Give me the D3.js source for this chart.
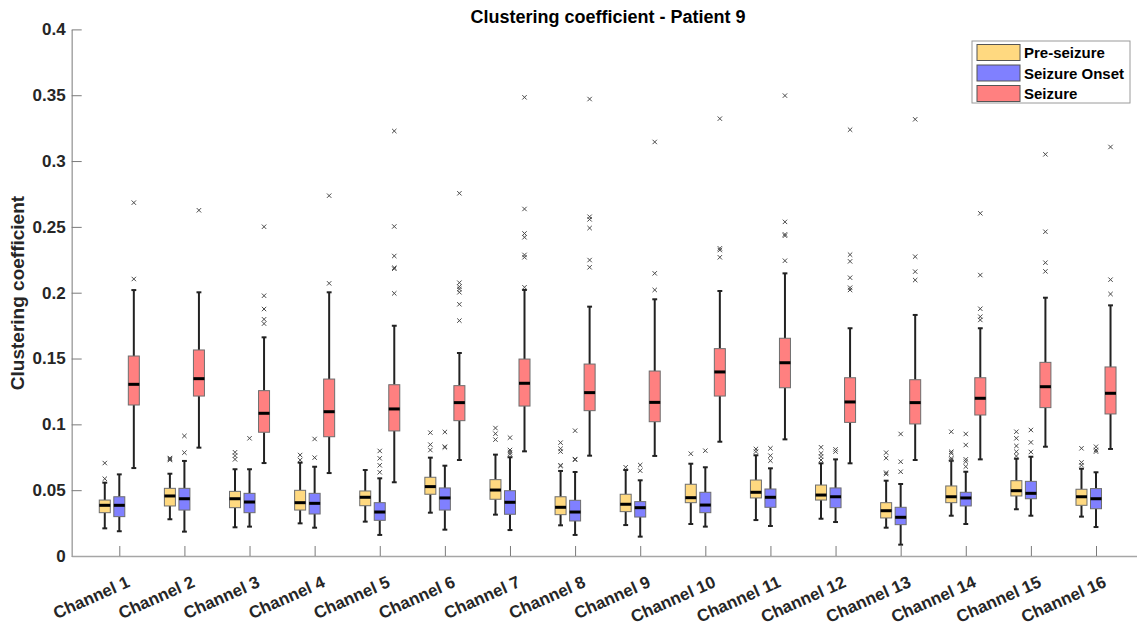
<!DOCTYPE html>
<html>
<head>
<meta charset="utf-8">
<script src="https://cdn.jsdelivr.net/npm/d3@7"></script>
<style>
  html, body { margin: 0; padding: 0; background: #fff; }
  svg { display: block; font-family: "Liberation Sans", Arial, sans-serif; }
</style>
</head>
<body>
<svg id="chart" width="1137" height="626"></svg>
<script>
// Channels on the x axis
const categories = ["Channel 1","Channel 2","Channel 3","Channel 4","Channel 5","Channel 6","Channel 7","Channel 8",
  "Channel 9","Channel 10","Channel 11","Channel 12","Channel 13","Channel 14","Channel 15","Channel 16"];
const groups = ["Pre-seizure", "Seizure Onset", "Seizure"];
const groupColors = ["#FFD980", "#8080FF", "#FF8080"];
const yTicks = [0, 0.05, 0.1, 0.15, 0.2, 0.25, 0.3, 0.35, 0.4];

// Box statistics per channel: [lower whisker, Q1, median, Q3, upper whisker]
const preSeizureStats = [
  [0.0210, 0.0329, 0.0385, 0.0425, 0.0557],
  [0.0279, 0.0380, 0.0456, 0.0514, 0.0625],
  [0.0218, 0.0367, 0.0435, 0.0491, 0.0659],
  [0.0248, 0.0349, 0.0405, 0.0499, 0.0709],
  [0.0261, 0.0382, 0.0446, 0.0494, 0.0653],
  [0.0329, 0.0469, 0.0527, 0.0598, 0.0747],
  [0.0314, 0.0431, 0.0501, 0.0580, 0.0770],
  [0.0233, 0.0314, 0.0370, 0.0450, 0.0646],
  [0.0235, 0.0337, 0.0393, 0.0469, 0.0653],
  [0.0243, 0.0405, 0.0443, 0.0545, 0.0701],
  [0.0273, 0.0441, 0.0484, 0.0577, 0.0765],
  [0.0283, 0.0425, 0.0463, 0.0539, 0.0704],
  [0.0215, 0.0289, 0.0344, 0.0405, 0.0572],
  [0.0306, 0.0405, 0.0450, 0.0532, 0.0724],
  [0.0355, 0.0456, 0.0496, 0.0572, 0.0739],
  [0.0299, 0.0385, 0.0450, 0.0507, 0.0663]
];
const preSeizureOutliers = [
  [0.0587, 0.0706], [0.0729, 0.0737, 0.0744], [0.0734, 0.0762, 0.0788], [0.0729, 0.0767], [],
  [0.0805, 0.0846, 0.0937], [0.0884, 0.0929, 0.0972], [0.0684, 0.0689, 0.0793, 0.0815, 0.0861],
  [0.0674], [0.0777], [0.0793, 0.0813], [0.0729, 0.0755, 0.0780, 0.0826],
  [0.0623, 0.0633, 0.0744, 0.0785], [0.0730, 0.0742, 0.0780, 0.0792, 0.0944],
  [0.0759, 0.0792, 0.0836, 0.0894, 0.0944], [0.0690, 0.0711, 0.0818]
];

const onsetStats = [
  [0.0188, 0.0299, 0.0385, 0.0450, 0.0620],
  [0.0185, 0.0349, 0.0435, 0.0514, 0.0722],
  [0.0223, 0.0329, 0.0410, 0.0476, 0.0659],
  [0.0215, 0.0319, 0.0400, 0.0476, 0.0678],
  [0.0160, 0.0271, 0.0334, 0.0405, 0.0590],
  [0.0200, 0.0349, 0.0441, 0.0517, 0.0686],
  [0.0197, 0.0317, 0.0408, 0.0496, 0.0750],
  [0.0160, 0.0266, 0.0334, 0.0423, 0.0638],
  [0.0147, 0.0296, 0.0367, 0.0413, 0.0575],
  [0.0223, 0.0329, 0.0387, 0.0484, 0.0674],
  [0.0228, 0.0370, 0.0446, 0.0509, 0.0666],
  [0.0258, 0.0367, 0.0450, 0.0517, 0.0734],
  [0.0086, 0.0238, 0.0294, 0.0370, 0.0547],
  [0.0243, 0.0380, 0.0441, 0.0484, 0.0640],
  [0.0306, 0.0435, 0.0476, 0.0567, 0.0754],
  [0.0220, 0.0359, 0.0435, 0.0512, 0.0636]
];
const onsetOutliers = [
  [], [0.0785, 0.0912], [0.0894], [0.0747, 0.0889], [0.0636, 0.0689, 0.0742, 0.0798],
  [0.0825, 0.0830, 0.0942], [0.0773, 0.0788, 0.0805, 0.0899], [0.0731, 0.0736, 0.0952],
  [0.0648, 0.0691], [0.0800], [0.0724, 0.0762, 0.0818], [0.0793, 0.0810],
  [0.0640, 0.0716, 0.0927], [0.0679, 0.0717, 0.0734, 0.0843, 0.0927],
  [0.0790, 0.0863, 0.0957], [0.0793, 0.0805, 0.0830]
];

const seizureStats = [
  [0.0668, 0.1147, 0.1304, 0.1519, 0.2020],
  [0.0823, 0.1215, 0.1347, 0.1565, 0.2003],
  [0.0706, 0.0940, 0.1084, 0.1256, 0.1661],
  [0.0630, 0.0906, 0.1096, 0.1344, 0.2003],
  [0.0560, 0.0950, 0.1117, 0.1301, 0.1749],
  [0.0729, 0.1028, 0.1165, 0.1294, 0.1542],
  [0.0795, 0.1139, 0.1312, 0.1496, 0.2021],
  [0.0762, 0.1104, 0.1241, 0.1458, 0.1894],
  [0.0760, 0.1020, 0.1167, 0.1405, 0.1950],
  [0.0868, 0.1215, 0.1398, 0.1575, 0.2013],
  [0.0886, 0.1278, 0.1468, 0.1654, 0.2147],
  [0.0704, 0.1015, 0.1170, 0.1354, 0.1730],
  [0.0729, 0.1003, 0.1165, 0.1339, 0.1831],
  [0.0734, 0.1071, 0.1198, 0.1354, 0.1730],
  [0.0830, 0.1127, 0.1286, 0.1471, 0.1962],
  [0.0813, 0.1079, 0.1236, 0.1436, 0.1904]
];
const seizureOutliers = [
  [0.2104, 0.2684], [0.2626], [0.1765, 0.1798, 0.1876, 0.1977, 0.2501], [0.2071, 0.2737],
  [0.1995, 0.2182, 0.2190, 0.2279, 0.2503, 0.3228],
  [0.1788, 0.1912, 0.2003, 0.2028, 0.2046, 0.2076, 0.2755],
  [0.2041, 0.2269, 0.2287, 0.2421, 0.2450, 0.2636, 0.3484],
  [0.2193, 0.2248, 0.2491, 0.2557, 0.2577, 0.3471],
  [0.2021, 0.2147, 0.3145], [0.2269, 0.2324, 0.2337, 0.3322],
  [0.2243, 0.2433, 0.2443, 0.2538, 0.3497], [0.2021, 0.2038, 0.2114, 0.2238, 0.2289, 0.3238],
  [0.2096, 0.2160, 0.2274, 0.3317], [0.1793, 0.1818, 0.1878, 0.2134, 0.2603],
  [0.2162, 0.2228, 0.2463, 0.3051], [0.1990, 0.2099, 0.3107]
];

const groupStats = [preSeizureStats, onsetStats, seizureStats];
const groupOutliers = [preSeizureOutliers, onsetOutliers, seizureOutliers];

// Layout
const svg = d3.select("#chart");
const axisLeftX = 71.7, axisBottomY = 556, axisTopY = 29.4;
const groupOffset = 0.223;   // spacing between the three boxes of a channel (channel units)
const boxWidth = 0.169;      // box width (channel units)
const capWidth = 0.075;      // whisker cap width (channel units)

const x = d3.scaleLinear().domain([0.269, 16.731]).range([axisLeftX, 1143.6]);
const y = d3.scaleLinear().domain([0, 0.4]).range([axisBottomY, axisTopY]);

const textColor = "#262626";

// Axes (inward ticks, no surrounding box)
const yAxis = d3.axisLeft(y).tickValues(yTicks).tickSizeInner(-10).tickSizeOuter(0).tickPadding(6)
  .tickFormat(d => d === 0 ? "0" : String(+d.toFixed(2)));
const yG = svg.append("g").attr("transform", `translate(${axisLeftX},0)`).call(yAxis);
yG.select(".domain").attr("stroke", "#a6a6a6").attr("stroke-width", 1.5);
yG.selectAll(".tick line").attr("stroke", "#7a7a7a").attr("stroke-width", 1);
yG.selectAll(".tick text").attr("fill", textColor).attr("font-size", 17).attr("font-weight", "bold")
  .attr("font-family", "Liberation Sans, Arial, sans-serif");

const xAxis = d3.axisBottom(x).tickValues(d3.range(1, categories.length + 1)).tickSizeInner(-10).tickSizeOuter(0)
  .tickFormat(i => categories[i - 1]);
const xG = svg.append("g").attr("transform", `translate(0,${axisBottomY})`).call(xAxis);
xG.select(".domain").attr("stroke", "#a6a6a6").attr("stroke-width", 1.5);
xG.selectAll(".tick line").attr("stroke", "#7a7a7a").attr("stroke-width", 1);
xG.selectAll(".tick text")
  .attr("fill", textColor).attr("font-size", 17).attr("font-weight", "bold")
  .attr("font-family", "Liberation Sans, Arial, sans-serif")
  .attr("text-anchor", "end").attr("x", 0).attr("y", 0).attr("dy", "0.72em")
  .attr("transform", "translate(6,19) rotate(-24)");

// Boxes
const plot = svg.append("g");
groups.forEach((g, gi) => {
  const color = groupColors[gi];
  const off = (gi - 1) * groupOffset;
  const layer = plot.append("g").attr("class", "group-" + gi);
  groupStats[gi].forEach((s, ci) => {
    const c = ci + 1 + off;
    const [lo, q1, med, q3, hi] = s;
    const cg = layer.append("g");
    // whiskers
    cg.append("line").attr("x1", x(c)).attr("x2", x(c)).attr("y1", y(q3)).attr("y2", y(hi))
      .attr("stroke", "#222").attr("stroke-width", 2);
    cg.append("line").attr("x1", x(c)).attr("x2", x(c)).attr("y1", y(q1)).attr("y2", y(lo))
      .attr("stroke", "#222").attr("stroke-width", 2);
    [lo, hi].forEach(v => {
      cg.append("line").attr("x1", x(c - capWidth / 2)).attr("x2", x(c + capWidth / 2))
        .attr("y1", y(v)).attr("y2", y(v)).attr("stroke", "#222").attr("stroke-width", 2);
    });
    // box
    cg.append("rect").attr("x", x(c - boxWidth / 2)).attr("width", x(c + boxWidth / 2) - x(c - boxWidth / 2))
      .attr("y", y(q3)).attr("height", y(q1) - y(q3))
      .attr("fill", color).attr("stroke", "#6e6e6e").attr("stroke-width", 1);
    // median
    cg.append("line").attr("x1", x(c - boxWidth / 2)).attr("x2", x(c + boxWidth / 2))
      .attr("y1", y(med)).attr("y2", y(med)).attr("stroke", "#000").attr("stroke-width", 3);
    // outliers
    groupOutliers[gi][ci].forEach(v => {
      const px = x(c), py = y(v), r = 2.2;
      cg.append("path").attr("d", `M${px - r},${py - r}L${px + r},${py + r}M${px - r},${py + r}L${px + r},${py - r}`)
        .attr("stroke", "#4a4a4a").attr("stroke-width", 1).attr("fill", "none");
    });
  });
});

// Title and axis label
svg.append("text").attr("x", 608).attr("y", 23).attr("text-anchor", "middle")
  .attr("font-size", 18).attr("font-weight", "bold").attr("fill", "#000")
  .text("Clustering coefficient - Patient 9");
svg.append("text").attr("transform", "translate(24,293) rotate(-90)").attr("text-anchor", "middle")
  .attr("font-size", 19).attr("font-weight", "bold").attr("fill", textColor)
  .text("Clustering coefficient");

// Legend
const legend = svg.append("g");
legend.append("rect").attr("x", 972).attr("y", 41).attr("width", 158).attr("height", 62)
  .attr("fill", "#fff").attr("stroke", "#9a9a9a").attr("stroke-width", 1);
groups.forEach((g, gi) => {
  const ly = 44.5 + gi * 20.5;
  legend.append("rect").attr("x", 977).attr("y", ly).attr("width", 43).attr("height", 16)
    .attr("fill", groupColors[gi]).attr("stroke", "#555").attr("stroke-width", 1);
  legend.append("text").attr("x", 1024).attr("y", ly + 13.5)
    .attr("font-size", 15).attr("font-weight", "bold").attr("fill", "#000").text(g);
});
</script>
</body>
</html>
